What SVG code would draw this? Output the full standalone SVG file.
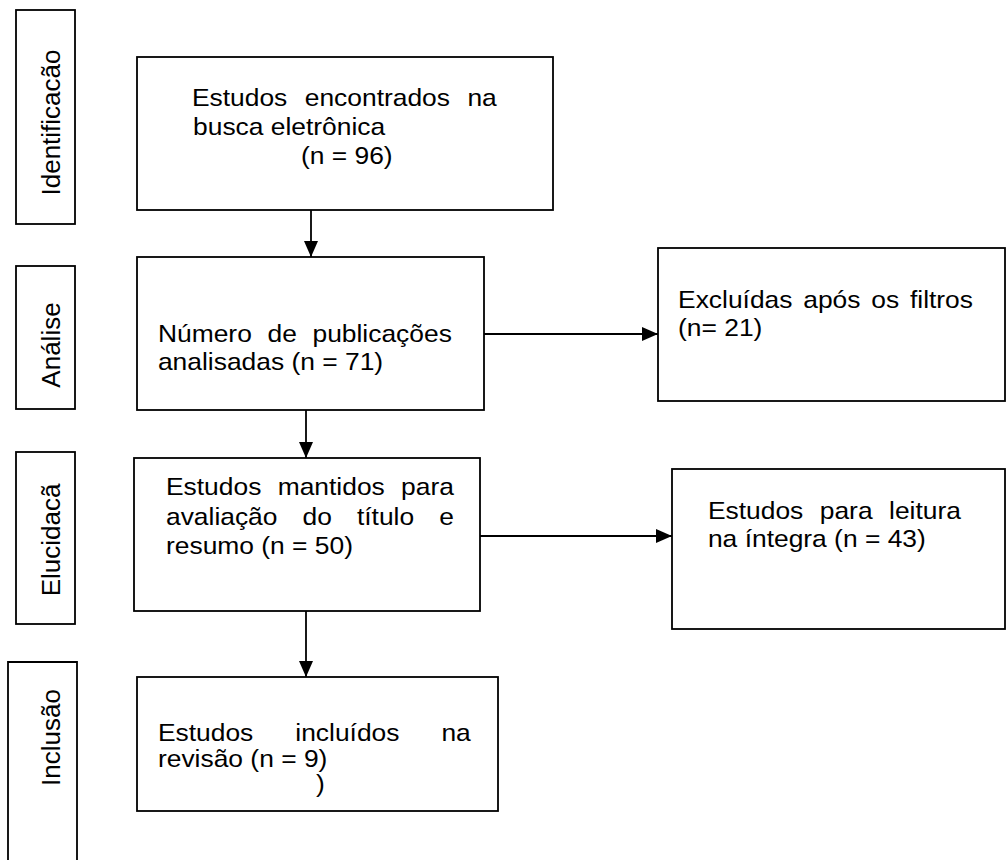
<svg xmlns="http://www.w3.org/2000/svg" width="1006" height="860" viewBox="0 0 1006 860">
<style>
.box{fill:#fff;stroke:#000;stroke-width:1.8}
.t{font-family:"Liberation Sans",Arial,sans-serif;font-size:24px;fill:#000}
.v{font-family:"Liberation Sans",Arial,sans-serif;font-size:26px;fill:#000;text-anchor:middle}
.c{fill:none;stroke:#000;stroke-width:1.8}
</style>
<defs>
<marker id="ah" markerUnits="userSpaceOnUse" markerWidth="16" markerHeight="14" refX="16" refY="7" orient="auto">
<path d="M0,0 L16,7 L0,14 Z" fill="#000"/>
</marker>
</defs>
<rect width="1006" height="860" fill="#fff"/>
<g id="lbl-identificacao">
<rect class="box" x="16" y="10" width="59" height="214"/>
<text class="v" transform="translate(60,122.5) rotate(-90)">Identificacão</text>
</g>
<g id="lbl-analise">
<rect class="box" x="16" y="266" width="59" height="143"/>
<text class="v" transform="translate(60,345) rotate(-90)">Análise</text>
</g>
<g id="lbl-elucidaca">
<rect class="box" x="16" y="452" width="59" height="172"/>
<text class="v" transform="translate(60,540) rotate(-90)">Elucidacã</text>
</g>
<g id="lbl-inclusao">
<path class="box" d="M8,861 V662 H77 V861"/>
<text class="v" transform="translate(60,737.5) rotate(-90)">Inclusão</text>
</g>
<g id="connectors">
<line class="c" x1="311" y1="210" x2="311" y2="257" marker-end="url(#ah)"/>
<line class="c" x1="306" y1="410" x2="306" y2="458" marker-end="url(#ah)"/>
<line class="c" x1="306" y1="611" x2="306" y2="677" marker-end="url(#ah)"/>
<line class="c" x1="484" y1="334" x2="658" y2="334" marker-end="url(#ah)"/>
<line class="c" x1="480" y1="536" x2="672" y2="536" marker-end="url(#ah)"/>
</g>
<g id="n-busca">
<rect class="box" x="137" y="57" width="416" height="153"/>
<text class="t" transform="scale(1.1 1)"><tspan x="174.5" y="106" word-spacing="9.2">Estudos encontrados na</tspan><tspan x="175.5" y="135">busca eletrônica</tspan><tspan x="273.6" y="164">(n = 96)</tspan></text>
</g>
<g id="n-analisadas">
<rect class="box" x="137" y="257" width="347" height="153"/>
<text class="t" transform="scale(1.1 1)"><tspan x="143.6" y="342" word-spacing="7.56">Número de publicações</tspan><tspan x="143.6" y="370">analisadas (n = 71)</tspan></text>
</g>
<g id="n-mantidos">
<rect class="box" x="134" y="458" width="346" height="153"/>
<text class="t" transform="scale(1.1 1)"><tspan x="150.9" y="495" word-spacing="8.2">Estudos mantidos para</tspan><tspan x="150.9" y="525" word-spacing="16.1">avaliação do título e</tspan><tspan x="150.9" y="554">resumo (n = 50)</tspan></text>
</g>
<g id="n-incluidos">
<rect class="box" x="137" y="677" width="361" height="134"/>
<text class="t" transform="scale(1.1 1)"><tspan x="143.6" y="741" word-spacing="31.5">Estudos incluídos na</tspan><tspan x="143.6" y="767">revisão (n = 9)</tspan><tspan x="287.3" y="792">)</tspan></text>
</g>
<g id="n-excluidas">
<rect class="box" x="658" y="248" width="347" height="153"/>
<text class="t" transform="scale(1.1 1)"><tspan x="616.4" y="308" word-spacing="3.15">Excluídas após os filtros</tspan><tspan x="616.4" y="336">(n= 21)</tspan></text>
</g>
<g id="n-leitura">
<rect class="box" x="672" y="469" width="333" height="160"/>
<text class="t" transform="scale(1.1 1)"><tspan x="643.6" y="519" word-spacing="8.3">Estudos para leitura</tspan><tspan x="643.6" y="547">na íntegra (n = 43)</tspan></text>
</g>
</svg>
